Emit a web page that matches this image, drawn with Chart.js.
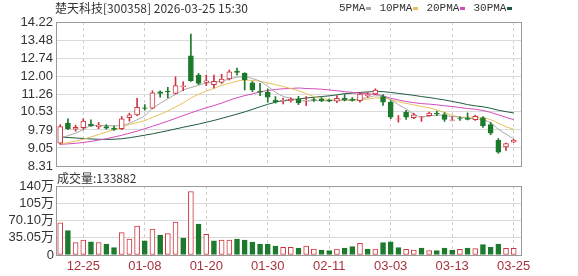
<!DOCTYPE html>
<html>
<head>
<meta charset="utf-8">
<script src="https://cdn.jsdelivr.net/npm/chart.js@4.4.1/dist/chart.umd.min.js"></script>
<style>
    html, body { margin: 0; padding: 0; background: #fff; }
    #wrap { position: relative; width: 578px; height: 276px; overflow: hidden; }
    #wrap canvas { position: absolute; left: 0; top: 0; }
    .title, .vol-title {
        position: absolute; font-family: "Noto Sans CJK SC", sans-serif;
        font-size: 12px; line-height: 16px; color: #333; white-space: pre;
    }
    .title { left: 55px; top: 0px; }
    .vol-title { left: 57px; top: 170px; }
    .legend {
        position: absolute; left: 339px; top: 0px; display: flex; align-items: center;
        font-family: "Liberation Mono", monospace; font-size: 11px; line-height: 16px; color: #333;
    }
    .legend .mark { display: inline-block; width: 5px; height: 3px; margin: 0 8px 0 1px; }
</style>
</head>
<body>
<div id="wrap">
    <canvas id="priceChart" width="578" height="276"></canvas>
    <canvas id="volChart" width="578" height="276"></canvas>
    <div class="title">楚天科技[300358] 2026-03-25 15:30</div>
    <div class="legend" id="legend"></div>
    <div class="vol-title">成交量:133882</div>
</div>

<script>
// ===============================
// DATA
// ===============================
const dates = [
    "12-22","12-23","12-24","12-25","12-26","12-29","12-30","12-31","01-05","01-06",
    "01-07","01-08","01-09","01-12","01-13","01-14","01-15","01-16","01-19","01-20",
    "01-21","01-22","01-23","01-26","01-27","01-28","01-29","01-30","02-02","02-03",
    "02-04","02-05","02-06","02-09","02-10","02-11","02-12","02-13","02-24","02-25",
    "02-26","02-27","03-02","03-03","03-04","03-05","03-06","03-09","03-10","03-11",
    "03-12","03-13","03-16","03-17","03-18","03-19","03-20","03-23","03-24","03-25"
];

const openP = [9.25,10.07,9.82,9.88,10.03,9.92,9.93,9.87,9.84,10.29, 10.41,10.70,10.68,11.35,11.38,11.29,11.57,12.83,12.04,11.74, 11.65,11.74,11.88,12.21,12.11,11.72,11.38,11.33,11.02,10.97, 10.99,11.06,10.98,11.04,11.06,11.01,10.97,11.09,11.05,10.99, 11.20,11.27,11.16,10.93,10.23,10.52,10.29,10.31,10.38,10.47, 10.42,10.18,10.26,10.27,10.21,10.29,10.01,9.36,9.09,9.29];
const highP = [10.01,10.25,9.99,10.25,10.21,10.10,10.01,9.95,10.34,10.48, 11.09,10.83,11.40,11.40,11.54,11.97,11.77,13.72,12.11,12.04, 12.04,12.08,12.25,12.33,12.14,11.78,11.70,11.47,11.16,11.10, 11.11,11.17,11.16,11.10,11.12,11.06,11.20,11.25,11.12,11.33, 11.33,11.48,11.24,10.99,10.38,10.59,10.48,10.35,10.52,10.56, 10.50,10.33,10.33,10.49,10.40,10.34,10.10,9.44,9.25,9.40];
const lowP = [9.20,9.80,9.74,9.82,9.93,9.84,9.82,9.77,9.80,10.15, 10.38,10.60,10.66,11.13,11.10,11.27,11.40,11.78,11.65,11.61, 11.51,11.70,11.84,12.04,11.43,11.36,11.20,10.93,10.89,10.86, 10.93,10.83,10.79,10.96,10.95,10.95,10.91,10.98,10.97,10.93, 11.13,11.24,10.80,10.25,10.11,10.22,10.25,10.14,10.35,10.38, 10.14,10.16,10.18,10.20,10.18,9.89,9.59,8.83,8.95,9.28];
const closeP = [9.93,9.84,9.90,10.15,9.97,9.99,9.86,9.81,10.25,10.41, 10.72,10.67,11.31,11.29,11.36,11.61,11.60,11.81,11.70,11.81, 11.78,11.88,12.18,12.15,11.84,11.43,11.34,11.13,10.94,11.00, 11.05,10.90,11.00,11.01,10.99,10.98,11.09,11.02,11.00,11.26, 11.24,11.43,10.93,10.31,10.25,10.31,10.41,10.33,10.48,10.45, 10.22,10.21,10.24,10.22,10.35,9.97,9.66,8.88,9.23,9.37];

// moving averages (null = not read, line spans the gap)
const ma5 = [9.47,9.55,9.66,9.80,9.96,9.97,9.97,9.96,9.98,10.06, 10.21,10.37,10.67,10.88,11.07,11.25,11.43,11.53,11.62,11.71, 11.74,11.80,11.87,11.96,11.97,11.90,11.79,11.58,11.34,11.17, 11.09,11.00,10.98,10.99,10.99,10.98,11.01,11.02,11.02,11.07, 11.12,11.19,11.17,11.03,10.83,10.65,10.44,10.32,10.36,10.40, 10.38,10.34,10.32,10.27,10.25,10.20,10.09,9.82,9.62,9.42];
const ma10 = [9.22,null,9.33,null,9.50,null,9.70,null,9.90,10.01, 10.09,10.17,10.31,10.43,10.57,10.73,10.90,11.10,11.25,11.39, 11.49,11.62,11.70,11.79,11.84,11.82,11.79,11.72,11.65,11.57, 11.49,11.40,11.28,11.16,11.08,11.03,11.01,11.00,11.00,11.03, 11.05,11.10,11.10,11.03,10.95,10.88,10.82,10.75,10.70,10.61, 10.51,10.39,10.32,10.31,10.32,10.29,10.21,10.07,9.92,9.82];
const ma20 = [9.20,null,9.24,null,9.32,null,9.43,null,9.57,null, 9.74,null,9.94,null,10.15,null,10.38,null,10.60,10.70, 10.79,10.89,11.01,11.11,11.20,11.27,11.35,11.41,11.45,11.48, 11.49,11.51,11.49,11.48,11.46,11.43,11.40,11.36,11.33,11.30, 11.27,11.25,11.19,11.09,11.02,10.96,10.91,10.87,10.85,10.82, 10.78,10.75,10.71,10.67,10.64,10.59,10.51,10.41,10.31,10.21];
const ma30 = [9.50,null,9.46,null,9.42,null,9.40,null,9.43,null, 9.52,null,9.63,null,9.76,null,9.90,null,10.03,null, 10.18,null,10.35,null,10.53,null,10.74,null,10.93,10.99, 11.03,11.06,11.10,11.13,11.16,11.19,11.23,11.28,11.30,11.33, 11.35,11.37,11.36,11.33,11.29,11.25,11.21,11.16,11.12,11.07, 11.02,10.96,10.90,10.83,10.78,10.74,10.68,10.60,10.54,10.49];

// volume in 万 (手)
const volumes = [65.6,49.4,25.0,30.5,27.0,25.0,22.4,14.9,45.4,32.5, 59.0,29.0,52.8,40.7,43.4,67.0,34.5,129.0,63.0,42.0, 29.0,30.5,30.5,32.5,30.5,26.4,22.4,22.4,18.3,15.6, 15.6,14.2,18.3,12.2,10.2,8.8,12.2,14.2,17.0,23.7, 12.2,12.0,25.0,27.0,14.9,11.5,10.2,14.2,8.8,8.8, 14.2,10.2,11.5,14.2,12.9,21.0,15.6,22.4,13.6,13.39];

// axis ticks
const priceTicks = [8.31, 9.05, 9.79, 10.53, 11.26, 12.00, 12.74, 13.48, 14.22];
const volTicks = [0, 35.05, 70.10, 105.15, 140.2];
const volTickLabels = ["0", "35.05万", "70.10万", "105万", "140万"];
const dateTickIndex = [3, 11, 19, 27, 35, 43, 51, 59];

// ===============================
// STYLE
// ===============================
const UP = "#cf3540";
const DOWN = "#1c7a2c";
const GRID = "#dadada";
const FONT = "'Liberation Sans', 'Noto Sans CJK SC', sans-serif";
const maSeries = [
    { label: "5PMA",  data: ma5,  color: "#a8a8a8" },
    { label: "10PMA", data: ma10, color: "#e6c15c" },
    { label: "20PMA", data: ma20, color: "#d24cbc" },
    { label: "30PMA", data: ma30, color: "#1f5a3c" }
];
const X_MIN = -0.55, X_MAX = 60.08;

// ===============================
// HELPERS
// ===============================
const isUp = closeP.map((c, i) => c >= openP[i]);
const volUp = closeP.map((c, i) => i === 0 ? c >= openP[0] : c >= closeP[i - 1]);

const frameBorder = {
    id: "frameBorder",
    afterDraw(chart) {
        const { ctx, chartArea: a } = chart;
        ctx.save();
        ctx.strokeStyle = "#9a9a9a";
        ctx.lineWidth = 1;
        ctx.strokeRect(Math.round(a.left) + 0.5, Math.round(a.top) + 0.5,
            Math.round(a.width) - 1, Math.round(a.height));
        ctx.restore();
    }
};

function xScale(showLabels) {
    return {
        type: "linear",
        min: X_MIN,
        max: X_MAX,
        offset: false,
        grid: { color: "#cfcfcf", drawTicks: false, offset: false },
        border: { display: false, dash: [3, 3] },
        ticks: {
            display: showLabels,
            autoSkip: false,
            maxRotation: 0,
            padding: 4,
            color: "#a8323c",
            font: { family: FONT, size: 13 },
            callback: v => dates[v]
        },
        afterBuildTicks: s => { s.ticks = dateTickIndex.map(v => ({ value: v })); },
        afterFit: s => { s.height = showLabels ? 21 : 0; }
    };
}

// ===============================
// PRICE CHART
// ===============================
const candleWicks = {
    type: "bar",
    data: lowP.map((l, i) => ({ x: i, y: [l, highP[i]] })),
    backgroundColor: isUp.map(u => u ? UP : DOWN),
    barThickness: 1,
    grouped: false,
    order: 2
};

const candleBodies = {
    type: "bar",
    data: openP.map((o, i) => ({ x: i, y: [Math.min(o, closeP[i]), Math.max(o, closeP[i])] })),
    backgroundColor: isUp.map(u => u ? "#ffffff" : DOWN),
    borderColor: isUp.map(u => u ? UP : DOWN),
    borderWidth: 1,
    borderSkipped: false,
    barThickness: 5,
    grouped: false,
    order: 1
};

const maLines = maSeries.map(m => ({
    type: "line",
    label: m.label,
    data: m.data.map((v, i) => ({ x: i, y: v })),
    borderColor: m.color,
    borderWidth: 1,
    pointRadius: 0,
    spanGaps: true,
    cubicInterpolationMode: "monotone",
    order: 3
}));

new Chart(document.getElementById("priceChart"), {
    type: "bar",
    data: { datasets: [candleBodies, candleWicks, ...maLines] },
    options: {
        responsive: false,
        animation: false,
        layout: { padding: { left: 0, right: 56, top: 22, bottom: 110 } },
        plugins: { legend: { display: false }, tooltip: { enabled: false } },
        scales: {
            x: xScale(false),
            y: {
                min: 8.31,
                max: 14.22,
                grid: { color: GRID, drawTicks: false },
                border: { display: false },
                ticks: {
                    autoSkip: false,
                    padding: 3,
                    color: "#333",
                    font: { family: FONT, size: 13 },
                    callback: v => v.toFixed(2)
                },
                afterBuildTicks: s => { s.ticks = priceTicks.map(v => ({ value: v })); },
                afterFit: s => { s.width = 56; }
            }
        }
    },
    plugins: [frameBorder]
});

// ===============================
// VOLUME CHART
// ===============================
new Chart(document.getElementById("volChart"), {
    type: "bar",
    data: {
        datasets: [{
            data: volumes.map((v, i) => ({ x: i, y: v })),
            backgroundColor: volUp.map(u => u ? "#ffffff" : DOWN),
            borderColor: volUp.map(u => u ? UP : DOWN),
            borderWidth: 1,
            borderSkipped: false,
            barThickness: 5,
            grouped: false
        }]
    },
    options: {
        responsive: false,
        animation: false,
        layout: { padding: { left: 0, right: 56, top: 186, bottom: 0 } },
        plugins: { legend: { display: false }, tooltip: { enabled: false } },
        scales: {
            x: xScale(true),
            y: {
                min: 0,
                max: 140.2,
                grid: { color: GRID, drawTicks: false },
                border: { display: false },
                ticks: {
                    autoSkip: false,
                    padding: 2,
                    color: "#333",
                    font: { family: FONT, size: 13 },
                    callback: v => volTickLabels[volTicks.indexOf(v)]
                },
                afterBuildTicks: s => { s.ticks = volTicks.map(v => ({ value: v })); },
                afterFit: s => { s.width = 56; }
            }
        }
    },
    plugins: [frameBorder]
});

// ===============================
// LEGEND
// ===============================
document.getElementById("legend").innerHTML = maSeries.map(m =>
    `<span>${m.label}</span><span class="mark" style="background:${m.color}"></span>`
).join("");
</script>
</body>
</html>
